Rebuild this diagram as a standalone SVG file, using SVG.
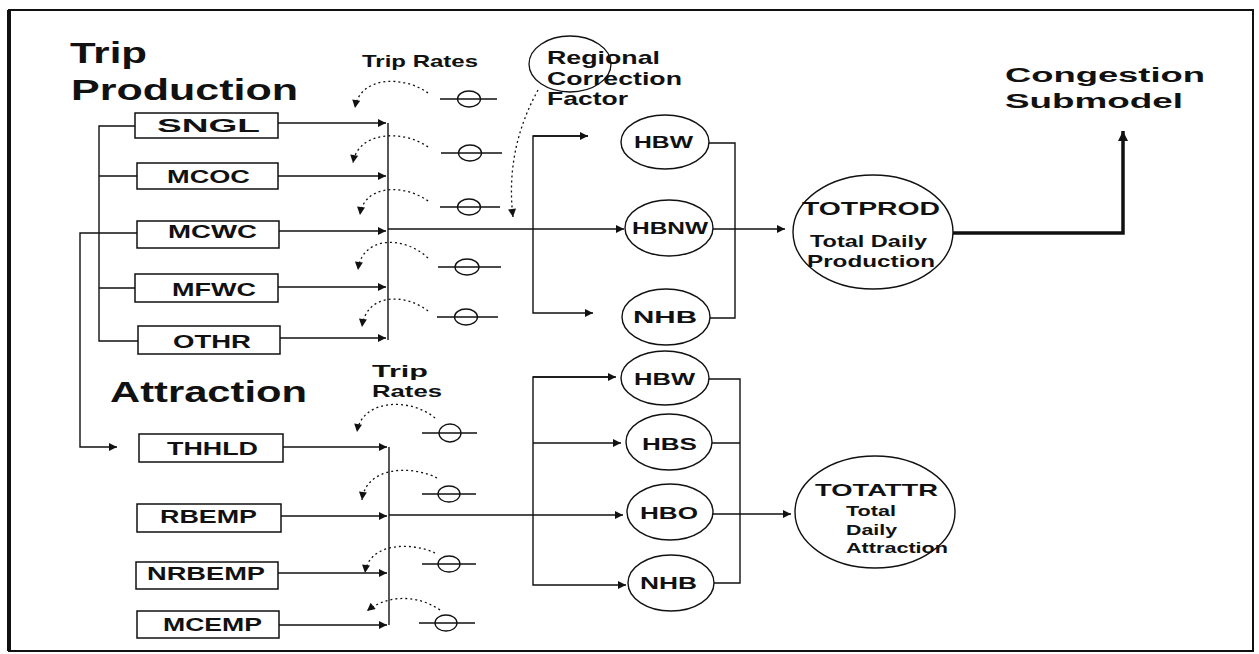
<svg xmlns="http://www.w3.org/2000/svg" width="1259" height="654" viewBox="0 0 1259 654">
<style>
text{font-family:"Liberation Sans",Arial,sans-serif;font-weight:bold;fill:#111}
.ln{fill:none;stroke:#111;stroke-width:1.4}
.dot{fill:none;stroke:#111;stroke-width:1.3;stroke-dasharray:2 3}
.box{fill:#fff;stroke:#111;stroke-width:1.5}
.el{fill:#fff;stroke:#111;stroke-width:1.4}
.rate{fill:none;stroke:#111;stroke-width:1.3}
.t1{font-size:29px}.t2{font-size:17px}.bx{font-size:18px}.ex{font-size:16px}
</style>
<defs>
<marker id="arr" viewBox="0 0 10 10" refX="10" refY="5" markerWidth="9" markerHeight="8" markerUnits="userSpaceOnUse" orient="auto"><path d="M0,0 L10,5 L0,10 z" fill="#111"/></marker>
<marker id="arrT" viewBox="0 0 10 10" refX="10" refY="5" markerWidth="11" markerHeight="10" markerUnits="userSpaceOnUse" orient="auto"><path d="M0,0 L10,5 L0,10 z" fill="#111"/></marker>
</defs>
<rect width="1259" height="654" fill="#fff"/>
<g id="frame">
<rect x="9" y="10" width="1244" height="641" fill="none" stroke="#111" stroke-width="2"/>
<line x1="9" y1="10" x2="9" y2="651" stroke="#111" stroke-width="4"/>
</g>
<g id="titles">
<text class="t1" x="70" y="63" textLength="77" lengthAdjust="spacingAndGlyphs">Trip</text>
<text class="t1" x="71" y="100" textLength="227" lengthAdjust="spacingAndGlyphs">Production</text>
<text class="t1" x="110" y="402" textLength="197" lengthAdjust="spacingAndGlyphs">Attraction</text>
<text class="t2" x="362" y="67" textLength="116" lengthAdjust="spacingAndGlyphs">Trip Rates</text>
<text class="t2" x="372" y="377" textLength="56" lengthAdjust="spacingAndGlyphs">Trip</text>
<text class="t2" x="372" y="397" textLength="70" lengthAdjust="spacingAndGlyphs">Rates</text>
<text style="font-size:20px" x="1005" y="82" textLength="200" lengthAdjust="spacingAndGlyphs">Congestion</text>
<text style="font-size:20px" x="1005" y="108" textLength="178" lengthAdjust="spacingAndGlyphs">Submodel</text>
</g>
<g id="connectors">
<!-- production left bracket -->
<path class="ln" d="M135,126 H99 V341 H138 M99,176 H137 M99,288 H135"/>
<!-- MCWC to THHLD -->
<path class="ln" d="M137,233 H80 V447 H117" marker-end="url(#arr)"/>
<!-- production boxes to vertical -->
<path class="ln" d="M278,123 H386" marker-end="url(#arr)"/>
<path class="ln" d="M278,176 H386" marker-end="url(#arr)"/>
<path class="ln" d="M279,231 H386" marker-end="url(#arr)"/>
<path class="ln" d="M278,287 H386" marker-end="url(#arr)"/>
<path class="ln" d="M280,338 H386" marker-end="url(#arr)"/>
<path class="ln" d="M388,123 V340"/>
<path class="ln" d="M388,229 H624" marker-end="url(#arr)"/>
<path class="ln" d="M588,136 H533 V313 H593" marker-end="url(#arr)"/>
<path class="ln" d="M533,136 H588" marker-end="url(#arr)"/>
<path class="ln" d="M708,143 H735 V318 H710"/>
<path class="ln" d="M713,229 H785" marker-end="url(#arr)"/>
<!-- regional correction dotted -->
<path class="dot" d="M538,90 Q505,150 513,217" marker-end="url(#arr)"/>
<!-- production rate symbols -->
<path class="dot" d="M428,93 C405,76 360,75 355,108" marker-end="url(#arr)"/>
<path class="dot" d="M428,147 C405,130 358,130 353,163" marker-end="url(#arr)"/>
<path class="dot" d="M428,201 C405,184 364,184 360,215" marker-end="url(#arr)"/>
<path class="dot" d="M428,258 C405,236 362,235 358,270" marker-end="url(#arr)"/>
<path class="dot" d="M428,311 C405,293 366,293 362,327" marker-end="url(#arr)"/>
<!-- attraction boxes to vertical -->
<path class="ln" d="M283,447 H387" marker-end="url(#arr)"/>
<path class="ln" d="M281,516 H387" marker-end="url(#arr)"/>
<path class="ln" d="M278,573 H387" marker-end="url(#arr)"/>
<path class="ln" d="M279,625 H387" marker-end="url(#arr)"/>
<path class="ln" d="M389,447 V625"/>
<path class="ln" d="M389,515 H623" marker-end="url(#arr)"/>
<path class="ln" d="M615,377 H533 V585 H626" marker-end="url(#arr)"/>
<path class="ln" d="M533,377 H616" marker-end="url(#arr)"/>
<path class="ln" d="M533,443 H621" marker-end="url(#arr)"/>
<path class="ln" d="M708,379 H740 V583 H713 M712,443 H740 M713,514 H740"/>
<path class="ln" d="M740,514 H791" marker-end="url(#arr)"/>
<!-- attraction rate arcs -->
<path class="dot" d="M435,418 C412,398 362,398 357,432" marker-end="url(#arr)"/>
<path class="dot" d="M437,478 C412,465 366,466 362,500" marker-end="url(#arr)"/>
<path class="dot" d="M435,553 C412,542 369,542 365,573" marker-end="url(#arr)"/>
<path class="dot" d="M440,610 C415,593 385,596 367,611" marker-end="url(#arr)"/>
<!-- congestion -->
<path d="M953,233 H1123 V131" fill="none" stroke="#111" stroke-width="3.5" marker-end="url(#arrT)"/>
</g>
<g id="rates">
<path class="rate" d="M440,99 H497 M441,153 H502 M440,207 H500 M438,267 H501 M437,317 H498 M422,433 H477 M422,494 H476 M422,564 H476 M419,623 H475"/>
<ellipse class="rate" cx="469" cy="99" rx="11.5" ry="8"/>
<ellipse class="rate" cx="470" cy="153" rx="11.5" ry="8"/>
<ellipse class="rate" cx="469" cy="207" rx="11.5" ry="8"/>
<ellipse class="rate" cx="467" cy="267" rx="12" ry="8"/>
<ellipse class="rate" cx="466" cy="317" rx="11.5" ry="8"/>
<ellipse class="rate" cx="450" cy="433" rx="11" ry="9"/>
<ellipse class="rate" cx="449" cy="494" rx="11" ry="8"/>
<ellipse class="rate" cx="449" cy="564" rx="11" ry="8"/>
<ellipse class="rate" cx="446" cy="623" rx="11" ry="8"/>
</g>
<g id="regional">
<ellipse cx="570" cy="64" rx="41" ry="28" fill="none" stroke="#111" stroke-width="1.3"/>
<text style="font-size:19px" x="547" y="64" textLength="113" lengthAdjust="spacingAndGlyphs">Regional</text>
<text style="font-size:19px" x="547" y="85" textLength="135" lengthAdjust="spacingAndGlyphs">Correction</text>
<text style="font-size:19px" x="547" y="105" textLength="81" lengthAdjust="spacingAndGlyphs">Factor</text>
</g>
<g id="box-SNGL"><rect class="box" x="135" y="113" width="143" height="25"/><text class="bx" x="157" y="132" textLength="103" lengthAdjust="spacingAndGlyphs">SNGL</text></g>
<g id="box-MCOC"><rect class="box" x="137" y="163" width="141" height="26"/><text class="bx" x="167" y="183" textLength="83" lengthAdjust="spacingAndGlyphs">MCOC</text></g>
<g id="box-MCWC"><rect class="box" x="137" y="221" width="142" height="27"/><text class="bx" x="168" y="238" textLength="89" lengthAdjust="spacingAndGlyphs">MCWC</text></g>
<g id="box-MFWC"><rect class="box" x="135" y="274" width="143" height="28"/><text class="bx" x="172" y="296" textLength="84" lengthAdjust="spacingAndGlyphs">MFWC</text></g>
<g id="box-OTHR"><rect class="box" x="138" y="326" width="142" height="28"/><text class="bx" x="173" y="348" textLength="78" lengthAdjust="spacingAndGlyphs">OTHR</text></g>
<g id="box-THHLD"><rect class="box" x="139" y="434" width="144" height="28"/><text class="bx" x="167" y="455" textLength="91" lengthAdjust="spacingAndGlyphs">THHLD</text></g>
<g id="box-RBEMP"><rect class="box" x="137" y="504" width="144" height="28"/><text class="bx" x="160" y="523" textLength="97" lengthAdjust="spacingAndGlyphs">RBEMP</text></g>
<g id="box-NRBEMP"><rect class="box" x="136" y="562" width="142" height="27"/><text class="bx" x="147" y="580" textLength="118" lengthAdjust="spacingAndGlyphs">NRBEMP</text></g>
<g id="box-MCEMP"><rect class="box" x="137" y="611" width="142" height="27"/><text class="bx" x="163" y="631" textLength="99" lengthAdjust="spacingAndGlyphs">MCEMP</text></g>
<g id="ell-HBW-p"><ellipse class="el" cx="665" cy="142" rx="44" ry="27"/><text class="ex" x="634" y="148" textLength="59" lengthAdjust="spacingAndGlyphs">HBW</text></g>
<g id="ell-HBNW"><ellipse class="el" cx="669" cy="228" rx="44" ry="28"/><text class="ex" x="632" y="234" textLength="76" lengthAdjust="spacingAndGlyphs">HBNW</text></g>
<g id="ell-NHB-p"><ellipse class="el" cx="666" cy="317" rx="44" ry="28"/><text class="ex" x="633" y="323" textLength="64" lengthAdjust="spacingAndGlyphs">NHB</text></g>
<g id="ell-HBW-a"><ellipse class="el" cx="665" cy="378" rx="44" ry="27"/><text class="ex" x="634" y="385" textLength="61" lengthAdjust="spacingAndGlyphs">HBW</text></g>
<g id="ell-HBS"><ellipse class="el" cx="669" cy="442" rx="43" ry="28"/><text class="ex" x="642" y="450" textLength="55" lengthAdjust="spacingAndGlyphs">HBS</text></g>
<g id="ell-HBO"><ellipse class="el" cx="670" cy="512" rx="43" ry="28"/><text class="ex" x="640" y="519" textLength="58" lengthAdjust="spacingAndGlyphs">HBO</text></g>
<g id="ell-NHB-a"><ellipse class="el" cx="671" cy="583" rx="43" ry="28"/><text class="ex" x="640" y="589" textLength="57" lengthAdjust="spacingAndGlyphs">NHB</text></g>
<g id="ell-TOTPROD"><ellipse class="el" cx="873" cy="232" rx="80" ry="57"/>
<text style="font-size:18px" x="802" y="215" textLength="138" lengthAdjust="spacingAndGlyphs">TOTPROD</text>
<text style="font-size:17px" x="810" y="247" textLength="117" lengthAdjust="spacingAndGlyphs">Total Daily</text>
<text style="font-size:17px" x="807" y="267" textLength="128" lengthAdjust="spacingAndGlyphs">Production</text></g>
<g id="ell-TOTATTR"><ellipse class="el" cx="875" cy="512" rx="80" ry="56"/>
<text style="font-size:17px" x="815" y="496" textLength="123" lengthAdjust="spacingAndGlyphs">TOTATTR</text>
<text style="font-size:15px" x="846" y="516" textLength="50" lengthAdjust="spacingAndGlyphs">Total</text>
<text style="font-size:15px" x="846" y="535" textLength="51" lengthAdjust="spacingAndGlyphs">Daily</text>
<text style="font-size:15px" x="846" y="553" textLength="102" lengthAdjust="spacingAndGlyphs">Attraction</text></g>
</svg>
